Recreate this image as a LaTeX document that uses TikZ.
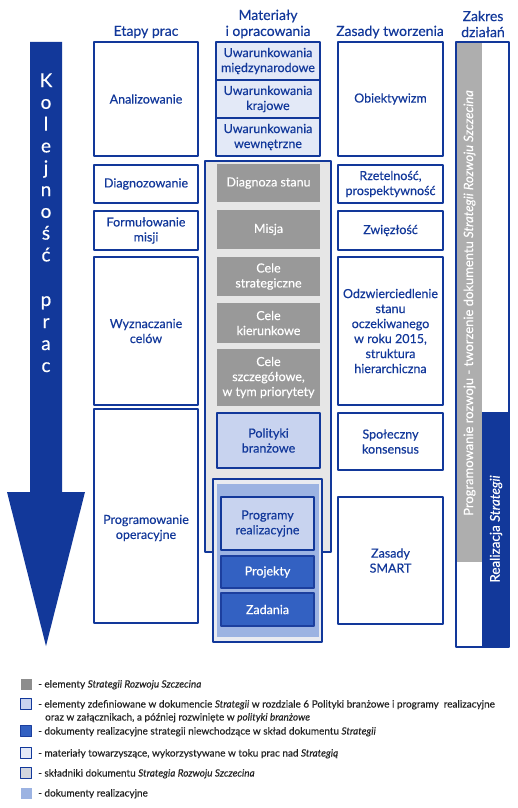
\documentclass[tikz,border=0pt]{standalone}
\usepackage{fontspec}
\setmainfont{Lato}[FakeBold=0.35]
\definecolor{kblue}{HTML}{12389A}
\definecolor{kpale}{HTML}{E3E9F7}
\definecolor{klight}{HTML}{C8D3EF}
\definecolor{kmid}{HTML}{9CB3E2}
\definecolor{kdark}{HTML}{3361C2}
\definecolor{kdarkline}{HTML}{1C3F9E}
\definecolor{kgray}{HTML}{999999}
\definecolor{kgraybg}{HTML}{E6E6E6}
\definecolor{kgrayband}{HTML}{AEAEAE}
\definecolor{kimplbg}{HTML}{E9EBF1}
\definecolor{klegtext}{HTML}{222222}
\begin{document}
\begin{tikzpicture}[x=1pt,y=-1pt,line join=round,
  stagebox/.style={draw=kblue,line width=1.4pt,fill=white,text=kblue,align=center,inner sep=0pt,font=\fontsize{12.5}{15}\selectfont},
  condbox/.style={stagebox,fill=kpale},
  elembox/.style={stagebox,draw=none,fill=kgray,text=white},
  polbox/.style={stagebox,fill=klight},
  docbox/.style={stagebox,draw=kdarkline,fill=kdark,text=white},
  headtext/.style={text=kblue,align=center,font=\fontsize{14}{16}\selectfont},
  seqletter/.style={text=white,anchor=base,inner sep=0pt,font=\fontsize{19}{19}\selectfont},
  legsq/.style={minimum size=11pt,inner sep=0pt,line width=1pt},
  legtext/.style={text=klegtext,anchor=base west,inner sep=0pt,font=\fontsize{10}{13}\selectfont}]
  \useasboundingbox (0,0) rectangle (517,808);
  % headers
  \node[headtext] (hstage) at (146,32) {Etapy prac};
  \node[headtext] (hmat) at (268,24) {Materiały\\i opracowania};
  \node[headtext] (hrule) at (390,32) {Zasady tworzenia};
  \node[headtext] (hscope) at (483,24) {Zakres\\działań};
  % order arrow
  \fill[kblue] (30,42) -- (62,42) -- (62,492) -- (85,492) -- (46,646) -- (7,492) -- (30,492) -- cycle;
  \foreach \ch [count=\i from 0] in {K,o,l,e,j,n,o,ś,ć}
    \node[seqletter] (seqa\i) at (46,87+21.8*\i) {\ch};
  \foreach \ch [count=\i from 0] in {p,r,a,c}
    \node[seqletter] (seqb\i) at (46,306+22*\i) {\ch};
  % stages
  \node[stagebox,minimum width=104pt,minimum height=114pt] (anal) at (146,99) {Analizowanie};
  \node[stagebox,minimum width=104pt,minimum height=38pt] (diag) at (146,184) {Diagnozowanie};
  \node[stagebox,minimum width=104pt,minimum height=39pt] (form) at (146,230.5) {Formułowanie\\misji};
  \node[stagebox,minimum width=104pt,minimum height=148pt] (wyzn) at (146,331) {Wyznaczanie\\celów};
  \node[stagebox,minimum width=104pt,minimum height=214pt] (prog) at (146,516) {};
  \node[text=kblue,align=center,font=\fontsize{12.5}{15}\selectfont] (progtxt) at (146,528) {Programowanie\\operacyjne};
  % materials
  \node[condbox,minimum width=104pt,minimum height=38pt] (uwmn) at (268,61) {Uwarunkowania\\międzynarodowe};
  \node[condbox,minimum width=104pt,minimum height=38pt] (uwkr) at (268,99) {Uwarunkowania\\krajowe};
  \node[condbox,minimum width=104pt,minimum height=38pt] (uwwe) at (268,137) {Uwarunkowania\\wewnętrzne};
  \node[stagebox,fill=kgraybg,minimum width=126pt,minimum height=391pt] (strat) at (268,356.5) {};
  \node[elembox,minimum width=103pt,minimum height=38pt] (dstan) at (268.5,183) {Diagnoza stanu};
  \node[elembox,minimum width=103pt,minimum height=39pt] (misja) at (268.5,229.5) {Misja};
  \node[elembox,minimum width=103pt,minimum height=39pt] (cstr) at (268.5,276.5) {Cele\\strategiczne};
  \node[elembox,minimum width=103pt,minimum height=40pt] (ckier) at (268.5,323) {Cele\\kierunkowe};
  \node[elembox,minimum width=103pt,minimum height=57pt] (cszcz) at (268.5,377.5) {Cele\\szczegółowe,\\w tym priorytety};
  \node[polbox,minimum width=103pt,minimum height=55pt] (polit) at (268.5,440.5) {Polityki\\branżowe};
  \node[stagebox,fill=kimplbg,minimum width=109pt,minimum height=163pt] (impl) at (267.5,560.5) {};
  \fill[kmid] ([shift={(5,6)}]impl.north west) rectangle ([shift={(-4,-6)}]impl.south east);
  \node[polbox,minimum width=93pt,minimum height=53pt] (preal) at (267.5,523.5) {Programy\\realizacyjne};
  \node[docbox,minimum width=93pt,minimum height=32pt] (proj) at (267.5,572) {Projekty};
  \node[docbox,minimum width=93pt,minimum height=33pt] (zad) at (267.5,609.5) {Zadania};
  % rules
  \node[stagebox,minimum width=105pt,minimum height=114pt] (obiekt) at (390.5,99) {Obiektywizm};
  \node[stagebox,minimum width=105pt,minimum height=38pt] (rzet) at (390.5,184) {Rzetelność,\\prospektywność};
  \node[stagebox,minimum width=105pt,minimum height=39pt] (zwiez) at (390.5,230.5) {Zwięzłość};
  \node[stagebox,minimum width=105pt,minimum height=148pt] (odzw) at (390.5,331) {Odzwierciedlenie\\stanu\\oczekiwanego\\w roku 2015,\\struktura\\hierarchiczna};
  \node[stagebox,minimum width=105pt,minimum height=57pt] (spol) at (390.5,441.5) {Społeczny\\konsensus};
  \node[stagebox,minimum width=105pt,minimum height=127pt] (smart) at (390.5,560.5) {Zasady\\SMART};
  % scope
  \fill[kgrayband] (456,42) rectangle (482,562);
  \fill[kblue] (482,412) rectangle (509,647);
  \node[draw=kblue,line width=1.4pt,inner sep=0pt,minimum width=53pt,minimum height=605pt] (scope) at (482.5,344.5) {};
  \node[rotate=90,text=white,inner sep=0pt,font=\fontsize{13}{15}\selectfont] (plan) at (469.5,303) {Programowanie rozwoju - tworzenie dokumentu \textit{Strategii Rozwoju Szczecina}};
  \node[rotate=90,text=white,inner sep=0pt,font=\fontsize{13.5}{15}\selectfont] (real) at (496,529) {Realizacja \textit{Strategii}};
  % legend
  \node[legsq,fill=kgray!92!black] (leg1) at (26,684) {};
  \node[legsq,fill=klight,draw=kblue] (leg2) at (26,704) {};
  \node[legsq,fill=kdark,draw=kdarkline] (leg3) at (26,731) {};
  \node[legsq,fill=kpale,draw=kblue] (leg4) at (26,753) {};
  \node[legsq,fill=kgraybg!90!kblue,draw=kblue] (leg5) at (26,773) {};
  \node[legsq,fill=kmid] (leg6) at (26,793) {};
  \node[legtext] (leg1t) at (38,687.5) {- elementy \textit{Strategii Rozwoju Szczecina}};
  \node[legtext] (leg2t) at (38,707.5) {- elementy zdefiniowane w dokumencie \textit{Strategii} w rozdziale 6 Polityki branżowe i programy\ \ realizacyjne};
  \node[legtext] (leg2u) at (45,720.5) {oraz w załącznikach, a później rozwinięte w \textit{polityki branżowe}};
  \node[legtext] (leg3t) at (38,734.5) {- dokumenty realizacyjne strategii niewchodzące w skład dokumentu \textit{Strategii}};
  \node[legtext] (leg4t) at (38,756.5) {- materiały towarzyszące, wykorzystywane w toku prac nad \textit{Strategią}};
  \node[legtext] (leg5t) at (38,776.5) {- składniki dokumentu \textit{Strategia Rozwoju Szczecina}};
  \node[legtext] (leg6t) at (38,796.5) {- dokumenty realizacyjne};
\end{tikzpicture}
\end{document}
